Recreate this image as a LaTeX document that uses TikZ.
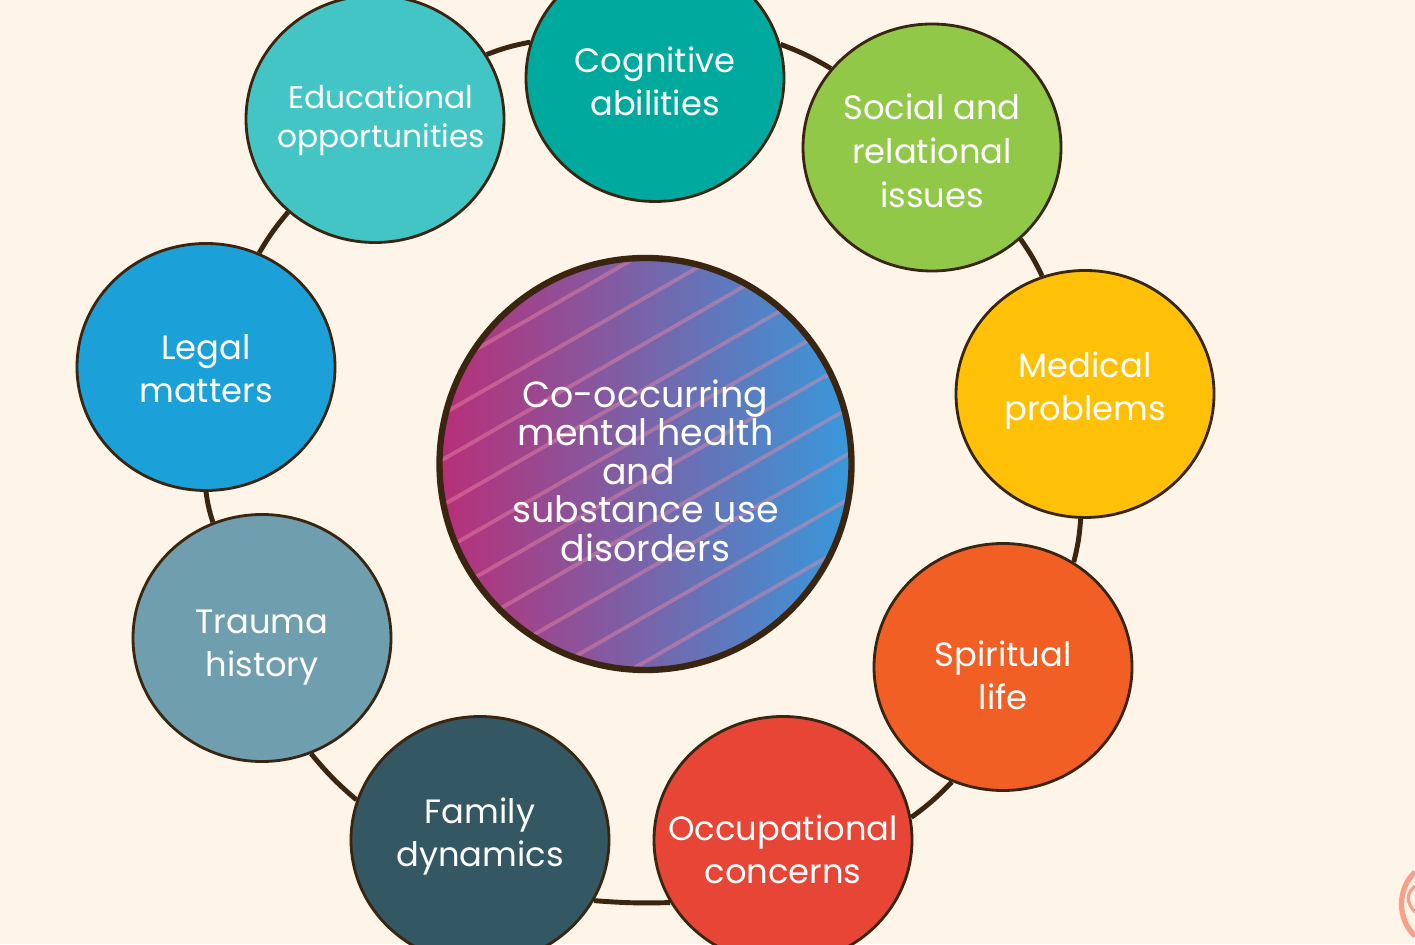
\documentclass[tikz,border=0pt]{standalone}
\usepackage{fontspec}
\setmainfont{Poppins}
\usetikzlibrary{shapes.geometric,backgrounds,calc}
\definecolor{paper}{HTML}{FEF4E8}
\definecolor{outline}{HTML}{3A2510}
\definecolor{swirl}{HTML}{F9A088}
\definecolor{hubleft}{HTML}{B82F78}
\definecolor{hubright}{HTML}{3799DB}
\definecolor{hubstripe}{HTML}{E889A8}
% text with no size of its own, so the node keeps its minimum size; #1,#2 = fine shift
\newcommand{\nudged}[3]{\makebox[0pt]{\hspace*{#1}\raisebox{\dimexpr#2-0.25em\relax}[0pt][0pt]{\begin{tabular}{@{}c@{}}#3\end{tabular}}}}
\begin{document}
\begin{tikzpicture}[>=latex]

    % styles
    \tikzstyle{topic}=[ellipse, draw=outline, line width=0.8pt, text=white, inner sep=0pt,
                       minimum width=2.58cm, minimum height=2.47cm,
                       font=\fontsize{9.6}{12.2}\selectfont]
    \tikzstyle{hub}=[circle, draw=outline, line width=1.8pt, text=white, inner sep=0pt,
                     minimum size=4.12cm, left color=hubleft, right color=hubright,
                     font=\fontsize{10.35}{10.9}\selectfont]
    \tikzstyle{ring}=[line width=1.4pt, outline]
    \tikzstyle{stripe}=[line width=1.1pt, hubstripe, opacity=0.45]

    \useasboundingbox (0,0) rectangle (14.15,9.44);

    %======================= CENTRE =======================
    \node[hub, path picture={
        \foreach \k in {0,...,9}
          \draw[stripe] ($(path picture bounding box.center)+(-2.2,{2.12-0.455*\k-0.575*2.2})$)
                     -- ($(path picture bounding box.center)+(2.2,{2.12-0.455*\k+0.575*2.2})$);
      }] (hub) at (6.455,4.80) {\nudged{0cm}{-0.12cm}{Co-occurring\\mental health\\and\hspace*{0.14cm}\\substance use\\disorders}};

    %======================= TOPICS =======================
    \node[topic, fill={rgb,255:red,0;green,169;blue,157}]   (cog) at (6.55,8.66)  {\nudged{0cm}{-0.075cm}{Cognitive\\abilities}};
    \node[topic, fill={rgb,255:red,146;green,200;blue,72}, font=\fontsize{9.6}{12.5}\selectfont]
                                                            (soc) at (9.32,7.965) {\nudged{0cm}{-0.08cm}{Social and\\relational\\issues}};
    \node[topic, fill={rgb,255:red,255;green,193;blue,7}]   (med) at (10.85,5.50) {\nudged{0cm}{0.035cm}{Medical\\problems}};
    \node[topic, fill={rgb,255:red,241;green,95;blue,37}]   (spi) at (10.03,2.77) {\nudged{0cm}{-0.13cm}{Spiritual\\life}};
    \node[topic, fill={rgb,255:red,231;green,69;blue,54}]   (occ) at (7.83,1.04)  {\nudged{0cm}{-0.135cm}{Occupational\\concerns}};
    \node[topic, fill={rgb,255:red,51;green,87;blue,99}]    (fam) at (4.80,1.04)  {\nudged{0cm}{0.035cm}{Family\\dynamics}};
    \node[topic, fill={rgb,255:red,111;green,159;blue,174}] (tra) at (2.62,3.06)  {\nudged{0cm}{-0.09cm}{Trauma\\history}};
    \node[topic, fill={rgb,255:red,27;green,161;blue,216}]  (leg) at (2.06,5.77)  {\nudged{0cm}{-0.06cm}{Legal\\matters}};
    \node[topic, fill={rgb,255:red,67;green,197;blue,198}, font=\fontsize{8.9}{11}\selectfont]
                                                            (edu) at (3.75,8.25)  {\nudged{0.12cm}{-0.015cm}{Educational\\opportunities}};

    %======================= RING =======================
    \begin{pgfonlayer}{background}
      \fill[paper] (0,0) rectangle (14.15,9.44);
      \draw[ring] (cog.15)   to[bend left=5] (soc.142);
      \draw[ring] (soc.-46)  to[bend left=5] (med.110);
      \draw[ring] (med.-92)  to[bend left=5] (spi.56);
      \draw[ring] (spi.-114) to[bend left=5] (occ.10);
      \draw[ring] (occ.-151) to[bend left=3] (fam.-28);
      \draw[ring] (fam.162)  to[bend left=5] (tra.-67);
      \draw[ring] (tra.113)  to[bend left=5] (leg.-90);
      \draw[ring] (leg.65)   to[bend left=5] (edu.-133);
      \draw[ring] (edu.30)   to[bend left=5] (cog.164);
    \end{pgfonlayer}

    % corner mark
    \draw[swirl, line width=1.5pt] (14.15,0.72) .. controls (13.97,0.55) and (13.97,0.25) .. (14.15,0.08);
    \draw[swirl, line width=0.9pt] (14.15,0.58) .. controls (14.06,0.50) and (14.06,0.42) .. (14.15,0.32);

\end{tikzpicture}
\end{document}
